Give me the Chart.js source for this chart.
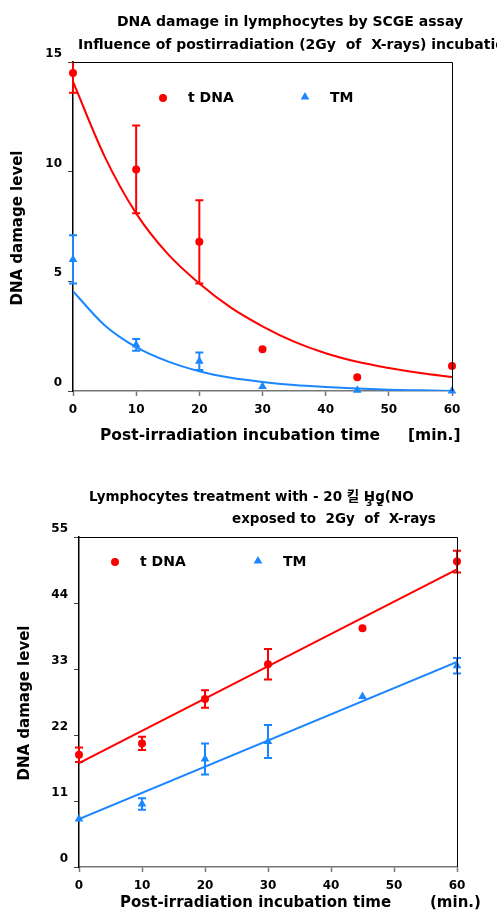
<!DOCTYPE html>
<html lang="en">
<head>
<meta charset="UTF-8">
<title>DNA damage in lymphocytes</title>
<script src="https://cdn.jsdelivr.net/npm/chart.js"></script>
<style>
    body, html {
        margin: 0;
        padding: 0;
        width: 497px;
        height: 912px;
        overflow: hidden;
        background: #fff;
        font-family: "DejaVu Sans", sans-serif;
    }
    .panel {
        position: absolute;
        left: 0;
        width: 497px;
        height: 456px;
    }
    #top-panel { top: 0; }
    #bottom-panel { top: 456px; }
</style>
</head>
<body>
<div class="panel" id="top-panel"><canvas id="decay" width="497" height="456"></canvas></div>
<div class="panel" id="bottom-panel"><canvas id="mercury" width="497" height="456"></canvas></div>
<script>
    // top panel: post-irradiation incubation (2Gy)
    const times = [0, 10, 20, 30, 45, 60];
    const decayDna = [14.5, 10.1, 6.8, 1.9, 0.63, 1.14];
    const decayDnaErr = [0.9, 2.0, 1.9, 0, 0, 0];
    const decayTm = [6.0, 2.1, 1.36, 0.21, 0.03, 0.0];
    const decayTmErr = [1.1, 0.27, 0.4, 0, 0, 0];
    const fitTimes = [0, 5, 10, 15, 20, 25, 30, 35, 40, 45, 50, 55, 60];
    const decayDnaFit = [14.1, 10.7, 8.1, 6.25, 4.9, 3.8, 2.95, 2.25, 1.72, 1.33, 1.05, 0.82, 0.64];
    const decayTmFit = [4.55, 3.0, 2.0, 1.35, 0.9, 0.6, 0.41, 0.27, 0.18, 0.11, 0.06, 0.03, 0.0];

    // bottom panel: Hg(NO3)2 treatment
    const hgDna = [18.7, 20.6, 28.0, 33.8, 39.8, 50.9];
    const hgDnaErr = [1.2, 1.1, 1.45, 2.55, 0, 1.8];
    const hgTm = [8.0, 10.5, 18.0, 20.9, 28.4, 33.55];
    const hgTmErr = [0, 0.95, 2.6, 2.75, 0, 1.3];
    const lineTimes = [0, 60];
    const hgDnaFit = [17.3, 49.6];
    const hgTmFit = [8.0, 34.2];

    const xTicks = [0, 10, 20, 30, 40, 50, 60];

    const RED = '#ff0000';
    const BLUE = '#1a86ff';
    const FONT = '"DejaVu Sans", "Noto Sans CJK KR", sans-serif';

    function pts(xs, ys) {
        return xs.map((x, i) => ({ x: x, y: ys[i] }));
    }

    function text(ctx, str, x, y, size, align) {
        ctx.font = 'bold ' + size + 'px ' + FONT;
        ctx.fillStyle = '#000';
        ctx.textAlign = align || 'left';
        ctx.textBaseline = 'middle';
        ctx.fillText(str, x, y);
    }

    function triangle(ctx, x, y, r) {
        ctx.beginPath();
        ctx.moveTo(x, y - r);
        ctx.lineTo(x + r * 0.87, y + r * 0.5);
        ctx.lineTo(x - r * 0.87, y + r * 0.5);
        ctx.closePath();
        ctx.fill();
    }

    // error bars, frame, titles, legend
    const extras = {
        id: 'extras',
        afterDatasetsDraw(chart) {
            const ctx = chart.ctx;
            const a = chart.chartArea;
            const xs = chart.scales.x, ys = chart.scales.y;
            ctx.save();
            ctx.beginPath();
            ctx.rect(a.left - 10, a.top, a.right - a.left + 20, a.bottom - a.top);
            ctx.clip();
            chart.data.datasets.forEach(ds => {
                if (!ds.errors) return;
                ctx.strokeStyle = ds.borderColor;
                ctx.lineWidth = 2;
                ds.data.forEach((p, i) => {
                    const e = ds.errors[i];
                    if (!e) return;
                    const px = xs.getPixelForValue(p.x);
                    const top = ys.getPixelForValue(p.y + e);
                    const bot = ys.getPixelForValue(p.y - e);
                    ctx.beginPath();
                    ctx.moveTo(px, top); ctx.lineTo(px, bot);
                    ctx.moveTo(px - 4, top); ctx.lineTo(px + 4, top);
                    ctx.moveTo(px - 4, bot); ctx.lineTo(px + 4, bot);
                    ctx.stroke();
                });
            });
            ctx.restore();
        },
        afterDraw(chart, args, opts) {
            const ctx = chart.ctx;
            const a = chart.chartArea;
            ctx.save();
            // top and right frame
            ctx.strokeStyle = '#000';
            ctx.lineWidth = 1;
            ctx.beginPath();
            ctx.moveTo(a.left, a.top + 0.5);
            ctx.lineTo(a.right + 0.5, a.top + 0.5);
            ctx.lineTo(a.right + 0.5, a.bottom);
            ctx.stroke();

            opts.titles.forEach(t => text(ctx, t.text, t.x, t.y, t.size, t.align));

            // y axis title
            ctx.save();
            ctx.translate(opts.yTitle.x, opts.yTitle.y);
            ctx.rotate(-Math.PI / 2);
            text(ctx, 'DNA damage level', 0, 0, 15, 'center');
            ctx.restore();

            text(ctx, 'Post-irradiation incubation time', opts.xTitle.x, opts.xTitle.y, opts.xTitle.size);
            text(ctx, opts.unit.text, opts.unit.x, opts.unit.y, opts.xTitle.size);

            // legend
            const lg = opts.legend;
            ctx.fillStyle = RED;
            ctx.beginPath();
            ctx.arc(lg.dna.x, lg.dna.y, 4, 0, Math.PI * 2);
            ctx.fill();
            text(ctx, 't DNA', lg.dna.x + 25, lg.dna.y, 14);
            ctx.fillStyle = BLUE;
            triangle(ctx, lg.tm.x, lg.tm.y, 5);
            text(ctx, 'TM', lg.tm.x + 25, lg.tm.y + 1, 14);
            ctx.restore();
        }
    };

    function buildChart(id, cfg) {
        const ctx = document.getElementById(id).getContext('2d');
        return new Chart(ctx, {
            type: 'scatter',
            data: {
                datasets: [
                    {
                        data: pts(cfg.fitX, cfg.dnaFit),
                        showLine: true,
                        borderColor: RED,
                        borderWidth: 2,
                        pointRadius: 0,
                        cubicInterpolationMode: 'monotone'
                    },
                    {
                        data: pts(cfg.fitX, cfg.tmFit),
                        showLine: true,
                        borderColor: BLUE,
                        borderWidth: 2,
                        pointRadius: 0,
                        cubicInterpolationMode: 'monotone'
                    },
                    {
                        data: pts(times, cfg.dna),
                        errors: cfg.dnaErr,
                        borderColor: RED,
                        backgroundColor: RED,
                        pointStyle: 'circle',
                        pointRadius: 4,
                        pointBorderWidth: 0,
                        clip: false
                    },
                    {
                        data: pts(times, cfg.tm),
                        errors: cfg.tmErr,
                        borderColor: BLUE,
                        backgroundColor: BLUE,
                        pointStyle: 'triangle',
                        pointRadius: 5,
                        pointBorderWidth: 0,
                        clip: false
                    }
                ]
            },
            options: {
                responsive: false,
                animation: false,
                layout: { padding: cfg.padding },
                plugins: {
                    legend: { display: false },
                    tooltip: { enabled: false },
                    extras: cfg.extras
                },
                scales: {
                    x: {
                        type: 'linear',
                        min: 0,
                        max: 60,
                        afterBuildTicks: s => { s.ticks = xTicks.map(v => ({ value: v })); },
                        afterFit: s => { s.height = cfg.xHeight; },
                        border: { color: '#777', width: 1.5 },
                        grid: { drawOnChartArea: false, tickLength: 5, tickColor: '#777', tickWidth: 1.5 },
                        ticks: {
                            color: '#000',
                            padding: 7,
                            font: { family: FONT, size: 12, weight: 'bold' }
                        }
                    },
                    y: {
                        min: 0,
                        max: cfg.yMax,
                        afterBuildTicks: s => { s.ticks = cfg.yTicks.map(v => ({ value: v })); },
                        afterFit: s => { s.width = cfg.yWidth; },
                        border: { color: '#000', width: 1.5 },
                        grid: { drawOnChartArea: false, tickLength: 5, tickColor: '#444', tickWidth: 1 },
                        ticks: {
                            color: '#000',
                            padding: 6,
                            labelOffset: -8,
                            font: { family: FONT, size: 12, weight: 'bold' }
                        }
                    }
                }
            },
            plugins: [extras]
        });
    }

    buildChart('decay', {
        fitX: fitTimes,
        dnaFit: decayDnaFit,
        tmFit: decayTmFit,
        dna: decayDna,
        dnaErr: decayDnaErr,
        tm: decayTm,
        tmErr: decayTmErr,
        yMax: 15,
        yTicks: [0, 5, 10, 15],
        padding: { left: 0, right: 45, top: 62, bottom: 0 },
        yWidth: 73,
        xHeight: 65,
        extras: {
            titles: [
                { text: 'DNA damage in lymphocytes by SCGE assay', x: 290, y: 22, size: 14, align: 'center' },
                { text: 'Influence of postirradiation (2Gy  of  X-rays) incubation', x: 78, y: 45, size: 14 }
            ],
            yTitle: { x: 18, y: 228 },
            xTitle: { x: 100, y: 436, size: 15.5 },
            unit: { text: '[min.]', x: 408, y: 436 },
            legend: { dna: { x: 163, y: 98 }, tm: { x: 305, y: 97 } }
        }
    });

    buildChart('mercury', {
        fitX: lineTimes,
        dnaFit: hgDnaFit,
        tmFit: hgTmFit,
        dna: hgDna,
        dnaErr: hgDnaErr,
        tm: hgTm,
        tmErr: hgTmErr,
        yMax: 55,
        yTicks: [0, 11, 22, 33, 44, 55],
        padding: { left: 0, right: 40, top: 81, bottom: 0 },
        yWidth: 79,
        xHeight: 45,
        extras: {
            titles: [
                { text: 'Lymphocytes treatment with - 20 킬 Hg(NO', x: 89, y: 41, size: 13.5 },
                { text: '3', x: 366, y: 48, size: 9 },
                { text: '2', x: 377, y: 48, size: 9 },
                { text: 'exposed to  2Gy  of  X-rays', x: 232, y: 63, size: 13.5 }
            ],
            yTitle: { x: 25, y: 247 },
            xTitle: { x: 120, y: 447, size: 15 },
            unit: { text: '(min.)', x: 430, y: 447 },
            legend: { dna: { x: 115, y: 106 }, tm: { x: 258, y: 105 } }
        }
    });
</script>
</body>
</html>
